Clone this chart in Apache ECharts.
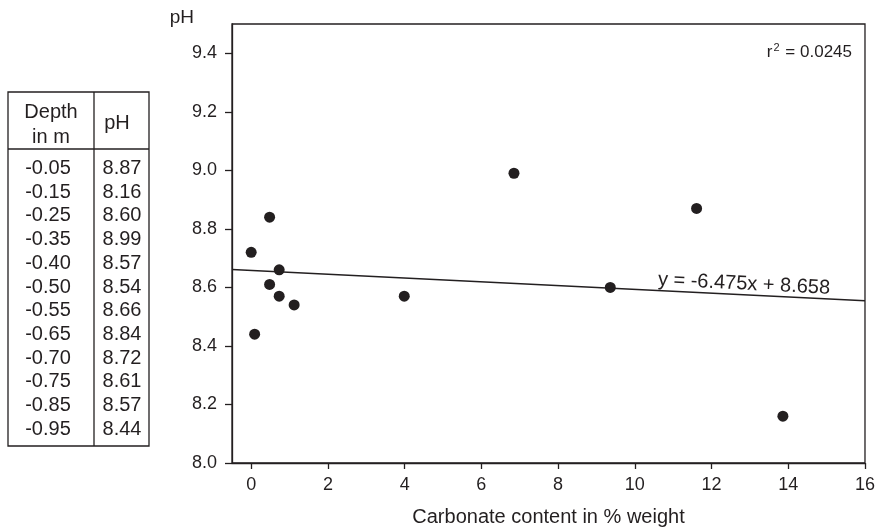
<!DOCTYPE html>
<html>
<head>
<meta charset="utf-8">
<script src="https://cdn.jsdelivr.net/npm/echarts@6/dist/echarts.min.js"></script>
<style>
	html, body { margin: 0; padding: 0; background: #fff; }
	#chart { width: 878px; height: 532px; }
</style>
</head>
<body>
<div id="chart"></div>
<script>
// table columns (depth order)
const depths = ['-0.05', '-0.15', '-0.25', '-0.35', '-0.40', '-0.50', '-0.55', '-0.65', '-0.70', '-0.75', '-0.85', '-0.95']
const phValues = [8.87, 8.16, 8.60, 8.99, 8.57, 8.54, 8.66, 8.84, 8.72, 8.61, 8.57, 8.44]
// carbonate content, same order as depths
const carbonate = [11.61, 13.86, 9.36, 6.85, 3.99, 1.12, 0.73, 0.48, 0.0, 0.48, 0.73, 0.09]

// regression line end points (y = -6.475x + 8.658, x in per mille)
const trendX = [-0.5, 16]
const trendY = [8.661, 8.554]

const xTicks = [0, 2, 4, 6, 8, 10, 12, 14, 16]
const yTicks = [8.0, 8.2, 8.4, 8.6, 8.8, 9.0, 9.2, 9.4]

const ink = '#231f20'
const font = '"Liberation Sans", Arial, Helvetica, sans-serif'

const chart = echarts.init(document.getElementById('chart'))

// table drawn with graphic elements
const tbl = { left: 8, right: 149, top: 92, bottom: 446, mid: 94, head: 149 }
const rowTop = 168.5
const rowStep = 23.7
const tableGraphics = [
	{
		type: 'rect',
		shape: { x: tbl.left, y: tbl.top, width: tbl.right - tbl.left, height: tbl.bottom - tbl.top },
		style: { fill: '#fff', stroke: ink, lineWidth: 1.3 }
	},
	{ type: 'line', shape: { x1: tbl.mid, y1: tbl.top, x2: tbl.mid, y2: tbl.bottom }, style: { stroke: ink, lineWidth: 1.3 } },
	{ type: 'line', shape: { x1: tbl.left, y1: tbl.head, x2: tbl.right, y2: tbl.head }, style: { stroke: ink, lineWidth: 1.3 } },
	{ type: 'text', x: 51, y: 112, style: { text: 'Depth', font: '20px ' + font, fill: ink, align: 'center', verticalAlign: 'middle' } },
	{ type: 'text', x: 51, y: 137, style: { text: 'in m', font: '20px ' + font, fill: ink, align: 'center', verticalAlign: 'middle' } },
	{ type: 'text', x: 117, y: 123, style: { text: 'pH', font: '20px ' + font, fill: ink, align: 'center', verticalAlign: 'middle' } }
]
depths.forEach((d, i) => {
	tableGraphics.push({
		type: 'text', x: 48, y: rowTop + i * rowStep,
		style: { text: d, font: '20px ' + font, fill: ink, align: 'center', verticalAlign: 'middle' }
	})
	tableGraphics.push({
		type: 'text', x: 122, y: rowTop + i * rowStep,
		style: { text: phValues[i].toFixed(2), font: '20px ' + font, fill: ink, align: 'center', verticalAlign: 'middle' }
	})
})

const option = {
	animation: false,
	backgroundColor: '#fff',
	textStyle: { fontFamily: font, color: ink },
	grid: {
		left: 232,
		right: 11,
		top: 24,
		bottom: 64,
		show: true,
		borderColor: ink,
		borderWidth: 1.3
	},
	xAxis: {
		type: 'value',
		min: -0.5,
		max: 16,
		name: 'Carbonate content in % weight',
		nameLocation: 'middle',
		nameGap: 54,
		nameTextStyle: { fontSize: 20, color: ink, verticalAlign: 'middle' },
		axisLine: { onZero: false, lineStyle: { color: ink, width: 1.3 } },
		axisTick: { show: true, length: 6, customValues: xTicks, lineStyle: { color: ink, width: 1.3 } },
		axisLabel: { customValues: xTicks, fontSize: 18, color: ink, margin: 13 },
		splitLine: { show: false }
	},
	yAxis: {
		type: 'value',
		min: 8.0,
		max: 9.5,
		name: 'pH',
		nameLocation: 'end',
		nameGap: 6,
		nameTextStyle: { fontSize: 19, color: ink, align: 'right', verticalAlign: 'middle', padding: [0, 38, 0, 0] },
		axisLine: { show: true, onZero: false, lineStyle: { color: ink, width: 1.3 } },
		axisTick: { show: true, length: 7, customValues: yTicks, lineStyle: { color: ink, width: 1.3 } },
		axisLabel: {
			customValues: yTicks,
			fontSize: 18,
			color: ink,
			margin: 15,
			formatter: v => v.toFixed(1)
		},
		splitLine: { show: false }
	},
	series: [
		{
			type: 'line',
			data: trendX.map((x, i) => [x, trendY[i]]),
			showSymbol: false,
			symbol: 'none',
			lineStyle: { color: ink, width: 1.5 },
			silent: true
		},
		{
			type: 'scatter',
			data: carbonate.map((x, i) => [x, phValues[i]]),
			symbolSize: 11,
			itemStyle: { color: ink, opacity: 1 }
		}
	],
	graphic: tableGraphics.concat([
		{
			type: 'text', x: 852, y: 52,
			style: {
				text: 'r{sup|2} = 0.0245',
				font: '17px ' + font,
				fill: ink,
				align: 'right',
				verticalAlign: 'middle',
				rich: { sup: { fontSize: 11, verticalAlign: 'top', padding: [0, 1, 8, 1], fill: ink } }
			}
		},
		{
			type: 'text', x: 744, y: 284, rotation: -0.05,
			style: { text: 'y = -6.475x + 8.658', font: '20px ' + font, fill: ink, align: 'center', verticalAlign: 'middle' }
		}
	])
}

chart.setOption(option)
</script>
</body>
</html>
